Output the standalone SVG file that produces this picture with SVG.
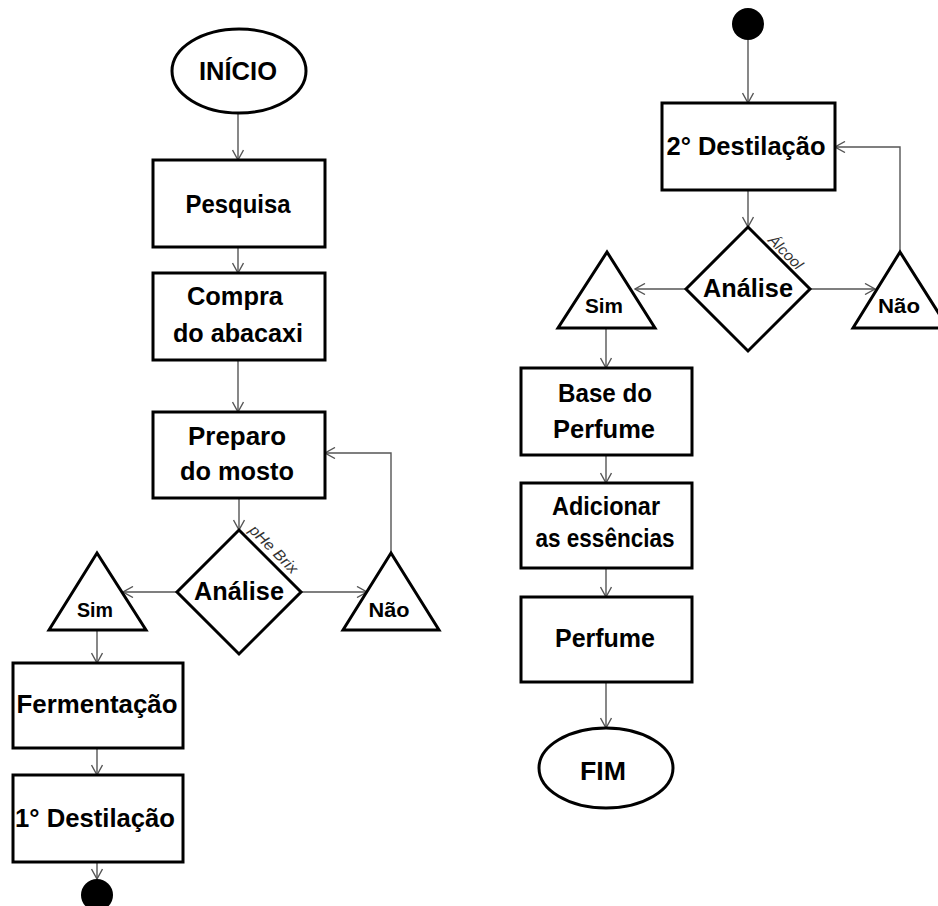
<svg xmlns="http://www.w3.org/2000/svg" width="938" height="906" viewBox="0 0 938 906">
<defs>
<marker id="arr" viewBox="0 0 12 12" refX="11" refY="6" markerWidth="12" markerHeight="12" markerUnits="userSpaceOnUse" orient="auto">
<path d="M1,0.5 L11,6 L1,11.5" fill="none" stroke="#555" stroke-width="1.4"/>
</marker>
</defs>
<style>
.shape{fill:#fff;stroke:#000;stroke-width:3}
.dot{fill:#000}
.t{font-family:"Liberation Sans",Arial,sans-serif;font-weight:bold;font-size:25px;fill:#000;text-anchor:middle}
.s{font-size:20px}
.lbl{font-family:"Liberation Sans",Arial,sans-serif;font-style:italic;font-size:15px;fill:#333;text-anchor:middle;dominant-baseline:central}
.c{fill:none;stroke:#555;stroke-width:1.4}
</style>
<rect width="938" height="906" fill="#fff"/>
<g id="connectors">
<path class="c" d="M238,113 L238,160" marker-end="url(#arr)"/>
<path class="c" d="M238,247 L238,273" marker-end="url(#arr)"/>
<path class="c" d="M238,360 L238,412" marker-end="url(#arr)"/>
<path class="c" d="M239,498 L239,530" marker-end="url(#arr)"/>
<path class="c" d="M177,592 L123,592" marker-end="url(#arr)"/>
<path class="c" d="M302,592 L367,592" marker-end="url(#arr)"/>
<path class="c" d="M391,553 L391,453 L325,453" marker-end="url(#arr)"/>
<path class="c" d="M97,630 L97,663" marker-end="url(#arr)"/>
<path class="c" d="M97,748 L97,775" marker-end="url(#arr)"/>
<path class="c" d="M97,862 L97,879" marker-end="url(#arr)"/>
<path class="c" d="M748,40 L748,103" marker-end="url(#arr)"/>
<path class="c" d="M748,190 L748,227" marker-end="url(#arr)"/>
<path class="c" d="M687,289 L635,289" marker-end="url(#arr)"/>
<path class="c" d="M810,289 L875,289" marker-end="url(#arr)"/>
<path class="c" d="M900,252 L900,147 L835,147" marker-end="url(#arr)"/>
<path class="c" d="M606,328 L606,368" marker-end="url(#arr)"/>
<path class="c" d="M606,455 L606,483" marker-end="url(#arr)"/>
<path class="c" d="M606,568 L606,597" marker-end="url(#arr)"/>
<path class="c" d="M606,682 L606,728" marker-end="url(#arr)"/>
</g>
<g id="inicio">
<ellipse class="shape" cx="239" cy="71" rx="67" ry="42"/>
<text class="t" x="238" y="80" textLength="78" lengthAdjust="spacingAndGlyphs">INÍCIO</text>
</g>
<g id="pesquisa">
<rect class="shape" x="153" y="160" width="172" height="87"/>
<text class="t" x="238" y="213" textLength="105" lengthAdjust="spacingAndGlyphs">Pesquisa</text>
</g>
<g id="compra">
<rect class="shape" x="153" y="273" width="172" height="87"/>
<text class="t" x="235" y="305" textLength="96" lengthAdjust="spacingAndGlyphs">Compra</text>
<text class="t" x="238" y="342" textLength="130" lengthAdjust="spacingAndGlyphs">do abacaxi</text>
</g>
<g id="preparo">
<rect class="shape" x="153" y="412" width="172" height="86"/>
<text class="t" x="237" y="445" textLength="98" lengthAdjust="spacingAndGlyphs">Preparo</text>
<text class="t" x="237" y="480" textLength="114" lengthAdjust="spacingAndGlyphs">do mosto</text>
</g>
<g id="analise1">
<path class="shape" d="M239,530 L301,592 L239,654 L177,592 Z"/>
<text class="t" x="239" y="600" textLength="90" lengthAdjust="spacingAndGlyphs">Análise</text>
<text class="lbl" x="274" y="549" transform="rotate(45 274 549)" textLength="62" lengthAdjust="spacingAndGlyphs">pHe Brix</text>
</g>
<g id="sim1">
<path class="shape" d="M97,553 L146,630 L49,630 Z"/>
<text class="t s" x="95" y="617" textLength="36" lengthAdjust="spacingAndGlyphs">Sim</text>
</g>
<g id="nao1">
<path class="shape" d="M391,553 L439,630 L343,630 Z"/>
<text class="t s" x="389" y="617" textLength="41" lengthAdjust="spacingAndGlyphs">Não</text>
</g>
<g id="fermentacao">
<rect class="shape" x="13" y="663" width="170" height="85"/>
<text class="t" x="97" y="713" textLength="161" lengthAdjust="spacingAndGlyphs">Fermentação</text>
</g>
<g id="destilacao1">
<rect class="shape" x="13" y="775" width="170" height="87"/>
<text class="t" x="95" y="827" textLength="160" lengthAdjust="spacingAndGlyphs">1° Destilação</text>
</g>
<g id="fim1">
<circle class="dot" cx="97" cy="895" r="16"/>
</g>
<g id="inicio2">
<circle class="dot" cx="748" cy="24" r="16"/>
</g>
<g id="destilacao2">
<rect class="shape" x="662" y="103" width="173" height="87"/>
<text class="t" x="746" y="155" textLength="159" lengthAdjust="spacingAndGlyphs">2° Destilação</text>
</g>
<g id="analise2">
<path class="shape" d="M748,227 L810,289 L748,351 L686,289 Z"/>
<text class="t" x="748" y="297" textLength="90" lengthAdjust="spacingAndGlyphs">Análise</text>
<text class="lbl" x="786" y="252" transform="rotate(45 786 252)" textLength="42" lengthAdjust="spacingAndGlyphs">Álcool</text>
</g>
<g id="sim2">
<path class="shape" d="M607,252 L655,328 L558,328 Z"/>
<text class="t s" x="604" y="313" textLength="38" lengthAdjust="spacingAndGlyphs">Sim</text>
</g>
<g id="nao2">
<path class="shape" d="M900,252 L948,328 L853,328 Z"/>
<text class="t s" x="899" y="313" textLength="42" lengthAdjust="spacingAndGlyphs">Não</text>
</g>
<g id="base">
<rect class="shape" x="521" y="368" width="171" height="87"/>
<text class="t" x="605" y="402" textLength="94" lengthAdjust="spacingAndGlyphs">Base do</text>
<text class="t" x="604" y="438" textLength="102" lengthAdjust="spacingAndGlyphs">Perfume</text>
</g>
<g id="adicionar">
<rect class="shape" x="521" y="483" width="171" height="85"/>
<text class="t" x="606" y="515" textLength="108" lengthAdjust="spacingAndGlyphs">Adicionar</text>
<text class="t" x="605" y="547" textLength="139" lengthAdjust="spacingAndGlyphs">as essências</text>
</g>
<g id="perfume">
<rect class="shape" x="521" y="597" width="171" height="85"/>
<text class="t" x="605" y="647" textLength="100" lengthAdjust="spacingAndGlyphs">Perfume</text>
</g>
<g id="fim">
<ellipse class="shape" cx="606" cy="768" rx="67" ry="40"/>
<text class="t" x="603" y="780" textLength="46" lengthAdjust="spacingAndGlyphs">FIM</text>
</g>
</svg>
